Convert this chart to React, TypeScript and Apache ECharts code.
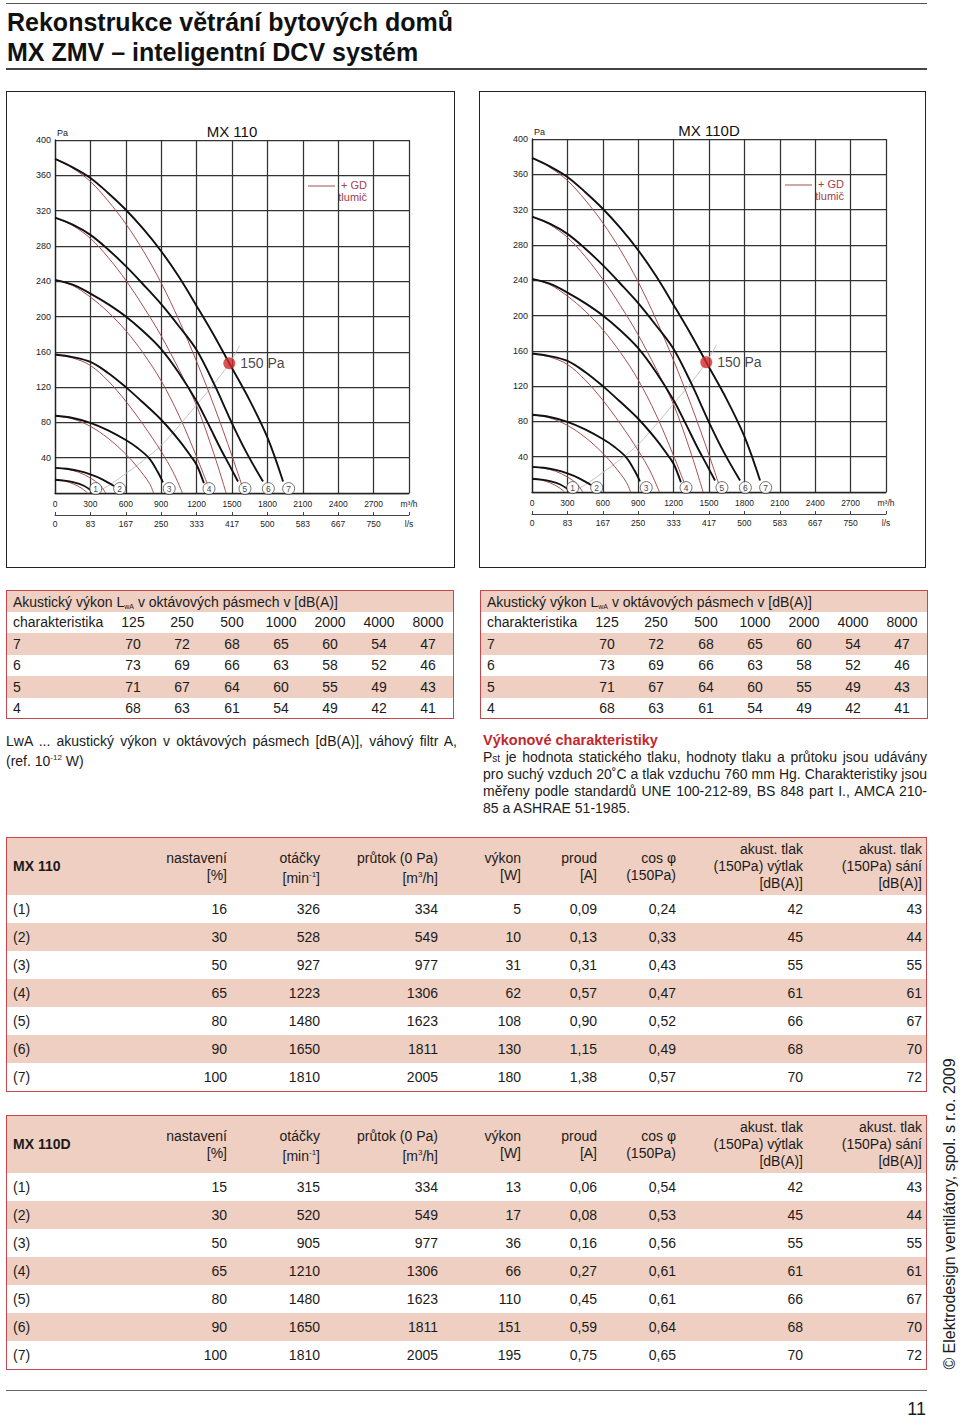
import React, { useEffect, useRef } from 'react';
import * as echarts from 'echarts';

const FONT = '"Liberation Sans", Arial, Helvetica, sans-serif';
const INK = '#1b1b1b';
const PINK = '#efcfc2';
const RED_BORDER = '#c6464c';
const CURVE_RED = '#a4504e';
const LEGEND_RED = '#a2414a';
const GRID = '#333333';

// ---------- chart data (flow Q in m³/h, static pressure in Pa) ----------
const flowLabelsM3h = ['0', '300', '600', '900', '1200', '1500', '1800', '2100', '2400', '2700', 'm³/h'];
const flowLabelsLs = ['0', '83', '167', '250', '333', '417', '500', '583', '667', '750', 'l/s'];

const black1 = [[0, 15], [80, 14], [160, 12], [240, 8.5], [305, 3]];
const black2 = [[0, 28.5], [100, 27.5], [200, 25], [300, 21], [400, 15.5], [500, 8]];
const black3 = [[0, 87.5], [150, 85], [300, 79.5], [450, 71], [600, 60], [700, 51], [800, 39], [870, 24], [915, 12]];
const black4 = [[0, 157], [150, 154], [300, 148.5], [450, 136], [600, 120], [750, 102], [900, 83], [1050, 60], [1150, 42], [1200, 32], [1262, 11]];
const black5 = [[0, 241.5], [150, 236], [300, 226], [450, 214], [600, 200], [750, 183], [900, 163], [1050, 136], [1200, 104], [1300, 78], [1400, 51], [1480, 31], [1551, 13]];
const black6 = [[0, 312], [150, 304], [300, 292.5], [450, 276], [600, 257], [750, 236], [900, 214], [1050, 189], [1200, 162], [1350, 123], [1500, 79], [1630, 44], [1763, 13]];
const black7 = [[0, 378.5], [150, 369], [300, 357], [450, 340], [600, 321], [750, 299], [900, 274], [1050, 245], [1200, 212], [1350, 178], [1477, 147], [1650, 105], [1800, 63], [1933, 13]];

const red1 = [[0, 15], [80, 13.5], [160, 10], [230, 5], [275, 0]];
const red2 = [[0, 28.5], [100, 27], [200, 23.5], [300, 17], [380, 9], [430, 0]];
const red3 = [[0, 87.5], [150, 84], [300, 75.5], [450, 62], [600, 44], [700, 29], [800, 11], [835, 0]];
const red4 = [[0, 157], [150, 153], [300, 144.5], [450, 127], [600, 104], [750, 77], [900, 47], [1000, 24], [1080, 0]];
const red5 = [[0, 241.5], [150, 235], [300, 222], [450, 205], [600, 184], [750, 158], [900, 127], [1050, 88], [1200, 41], [1320, 0]];
const red6 = [[0, 312], [150, 303], [300, 288.5], [450, 267], [600, 241], [750, 211], [900, 178], [1050, 140], [1200, 99], [1350, 43], [1450, 0]];
const red7 = [[0, 378.5], [150, 368], [300, 353], [450, 331], [600, 305], [750, 274], [900, 238], [1050, 196], [1200, 149], [1350, 98], [1500, 42], [1605, 0]];

const systemCurve = [[360, 2], [450, 8], [600, 22], [750, 37], [900, 54], [1050, 76], [1200, 100], [1350, 124], [1477, 147], [1565, 167]];

const markerFlow = [345, 548, 968, 1305, 1610, 1808, 1980];
const markerPressure = [5, 5, 5, 5, 5, 5, 5];
const markerNames = ['1', '2', '3', '4', '5', '6', '7'];
const operatingPoint = [1477, 147];
const operatingLabel = '150 Pa';

const blackCurves = [black1, black2, black3, black4, black5, black6, black7];
const redCurves = [red1, red2, red3, red4, red5, red6, red7];

// ---------- acoustic table data ----------
const octaveBands = ['125', '250', '500', '1000', '2000', '4000', '8000'];
const acousticNames = ['7', '6', '5', '4'];
const acoustic7 = [70, 72, 68, 65, 60, 54, 47];
const acoustic6 = [73, 69, 66, 63, 58, 52, 46];
const acoustic5 = [71, 67, 64, 60, 55, 49, 43];
const acoustic4 = [68, 63, 61, 54, 49, 42, 41];
const acousticRows = [acoustic7, acoustic6, acoustic5, acoustic4];

// ---------- performance tables ----------
const settingLabels = ['(1)', '(2)', '(3)', '(4)', '(5)', '(6)', '(7)'];
const mx110Setting = [16, 30, 50, 65, 80, 90, 100];
const mx110Speed = [326, 528, 927, 1223, 1480, 1650, 1810];
const mx110Flow = [334, 549, 977, 1306, 1623, 1811, 2005];
const mx110Power = [5, 10, 31, 62, 108, 130, 180];
const mx110Current = ['0,09', '0,13', '0,31', '0,57', '0,90', '1,15', '1,38'];
const mx110Cos = ['0,24', '0,33', '0,43', '0,47', '0,52', '0,49', '0,57'];
const mx110Discharge = [42, 45, 55, 61, 66, 68, 70];
const mx110Suction = [43, 44, 55, 61, 67, 70, 72];

const mx110dSetting = [15, 30, 50, 65, 80, 90, 100];
const mx110dSpeed = [315, 520, 905, 1210, 1480, 1650, 1810];
const mx110dFlow = [334, 549, 977, 1306, 1623, 1811, 2005];
const mx110dPower = [13, 17, 36, 66, 110, 151, 195];
const mx110dCurrent = ['0,06', '0,08', '0,16', '0,27', '0,45', '0,59', '0,75'];
const mx110dCos = ['0,54', '0,53', '0,56', '0,61', '0,61', '0,64', '0,65'];
const mx110dDischarge = [42, 45, 55, 61, 66, 68, 70];
const mx110dSuction = [43, 44, 55, 61, 67, 70, 72];

type ChartProps = {
  title: string; left: number; top: number; width: number; height: number;
  gl: number; gr: number; gt: number; gb: number;
};

function buildOption(p: ChartProps): any {
  const curve = (data: number[][], color: string, width: number, z: number) => ({
    type: 'line', data, smooth: 0.35, symbol: 'none', silent: true, z,
    lineStyle: { color, width }, xAxisIndex: 0, yAxisIndex: 0,
  });
  const labelIdx = (v: number) => Math.round(v / 300);
  return {
    animation: false,
    textStyle: { fontFamily: FONT },
    grid: { left: p.gl, right: p.gr, top: p.gt, bottom: p.gb, containLabel: false },
    xAxis: [
      {
        type: 'value', min: 0, max: 3000, interval: 300, position: 'bottom',
        axisLine: { show: true, onZero: false, lineStyle: { color: '#222', width: 1.3 } },
        axisTick: { show: false },
        axisLabel: { fontSize: 8.5, color: '#222', margin: 6, fontFamily: FONT, showMinLabel: true, showMaxLabel: true,
          formatter: (v: number) => flowLabelsM3h[labelIdx(v)] ?? '' },
        splitLine: { show: true, lineStyle: { color: GRID, width: 1.25 } },
      },
      {
        type: 'value', min: 0, max: 3000, interval: 300, position: 'bottom', offset: 22,
        axisLine: { show: true, onZero: false, lineStyle: { color: '#444', width: 1 } },
        axisTick: { show: true, inside: true, length: 3, lineStyle: { color: '#444' } },
        axisLabel: { fontSize: 8.5, color: '#222', margin: 4, fontFamily: FONT, showMinLabel: true, showMaxLabel: true,
          formatter: (v: number) => flowLabelsLs[labelIdx(v)] ?? '' },
        splitLine: { show: false },
      },
    ],
    yAxis: {
      type: 'value', min: 0, max: 400, interval: 40,
      axisLine: { show: true, lineStyle: { color: '#222', width: 1.3 } },
      axisTick: { show: false },
      axisLabel: { fontSize: 9, color: '#222', margin: 4, fontFamily: FONT, formatter: (v: number) => (v === 0 ? '' : String(v)) },
      splitLine: { show: true, lineStyle: { color: GRID, width: 1.25 } },
    },
    graphic: [
      { type: 'text', x: p.gl + 177, y: p.gt - 9, style: { text: p.title, fontSize: 15, fill: '#111', align: 'center', verticalAlign: 'middle', fontFamily: FONT } },
      { type: 'text', x: p.gl + 2, y: p.gt - 7, style: { text: 'Pa', fontSize: 9, fill: '#222', align: 'left', verticalAlign: 'middle', fontFamily: FONT } },
      { type: 'line', shape: { x1: p.gl + 253, y1: p.gt + 46, x2: p.gl + 280, y2: p.gt + 46 }, style: { stroke: CURVE_RED, lineWidth: 1 } },
      { type: 'text', x: p.gl + 312, y: p.gt + 45, style: { text: '+ GD', fontSize: 11, fill: LEGEND_RED, align: 'right', verticalAlign: 'middle', fontFamily: FONT } },
      { type: 'text', x: p.gl + 312, y: p.gt + 57, style: { text: 'tlumič', fontSize: 11, fill: LEGEND_RED, align: 'right', verticalAlign: 'middle', fontFamily: FONT } },
    ],
    series: [
      curve(systemCurve, '#c4c4c4', 1, 2),
      ...redCurves.map((c) => curve(c, CURVE_RED, 1, 3)),
      ...blackCurves.map((c) => curve(c, '#111', 1.9, 4)),
      {
        type: 'scatter', silent: true, z: 6, symbol: 'circle', symbolSize: 12,
        data: markerFlow.map((q, i) => ({ value: [q, markerPressure[i]], name: markerNames[i] })),
        itemStyle: { color: '#fff', borderColor: '#222', borderWidth: 0.8 },
        label: { show: true, position: 'inside', formatter: (d: any) => d.name, fontSize: 8.5, color: '#111', fontFamily: FONT },
      },
      {
        type: 'scatter', silent: true, z: 7, symbol: 'circle', symbolSize: 12,
        data: [operatingPoint],
        itemStyle: { color: '#d22b2b' },
        label: { show: true, position: 'right', distance: 5, formatter: operatingLabel, fontSize: 14, color: '#111', fontFamily: FONT },
      },
    ],
  };
}

function FanChart(p: ChartProps) {
  const ref = useRef<HTMLDivElement>(null);
  useEffect(() => {
    if (!ref.current) return;
    const chart = echarts.init(ref.current, null, { renderer: 'svg' });
    chart.setOption(buildOption(p));
    return () => chart.dispose();
  }, []);
  return (
    <>
      <div style={{ position: 'absolute', left: p.left, top: p.top, width: p.width, height: p.height, border: '1.5px solid #222', boxSizing: 'border-box' }} />
      <div ref={ref} style={{ position: 'absolute', left: p.left, top: p.top, width: p.width, height: p.height }} />
    </>
  );
}

type TxtProps = { x: number; y: number; align?: 'left' | 'right' | 'center'; size?: number; weight?: number; color?: string; children: any };
function Txt({ x, y, align = 'left', size = 14, weight = 400, color = INK, children }: TxtProps) {
  const W = 500, LH = 20;
  const left = align === 'left' ? x : align === 'right' ? x - W : x - W / 2;
  return (
    <div style={{ position: 'absolute', left, top: y - LH / 2, width: W, height: LH, lineHeight: LH + 'px', fontSize: size, fontWeight: weight, color, textAlign: align, whiteSpace: 'nowrap' }}>
      {children}
    </div>
  );
}

function JLine({ x, y, w, size = 14, last = true, children }: { x: number; y: number; w: number; size?: number; last?: boolean; children: any }) {
  return (
    <div style={{ position: 'absolute', left: x, top: y - 9, width: w, height: 18, lineHeight: '18px', fontSize: size, textAlign: 'justify', textAlignLast: last ? 'justify' : 'left', color: INK } as any}>
      {children}
    </div>
  );
}

function AcousticTable({ left }: { left: number }) {
  const top = 590, width = 448, rowH = 21.5;
  const centers = [127, 176, 226, 275, 324, 373, 422];
  return (
    <div style={{ position: 'absolute', left, top, width, height: rowH * 6 }}>
      {[0, 2, 4].map((i) => (
        <div key={i} style={{ position: 'absolute', left: 0, top: i * rowH, width, height: rowH, background: PINK }} />
      ))}
      <Txt x={7} y={rowH * 0.5 + 1}>
        Akustický výkon L<span style={{ fontSize: 7, verticalAlign: '-2px' }}>wA</span> v oktávových pásmech v [dB(A)]
      </Txt>
      <Txt x={7} y={rowH * 1.5}>charakteristika</Txt>
      {octaveBands.map((b, j) => <Txt key={b} x={centers[j]} y={rowH * 1.5} align="center">{b}</Txt>)}
      {acousticRows.map((row, i) => (
        <React.Fragment key={i}>
          <Txt x={7} y={rowH * (i + 2.5)}>{acousticNames[i]}</Txt>
          {row.map((v, j) => <Txt key={j} x={centers[j]} y={rowH * (i + 2.5)} align="center">{v}</Txt>)}
        </React.Fragment>
      ))}
      <div style={{ position: 'absolute', left: 0, top: 0, width, height: rowH * 6, border: `1.5px solid ${RED_BORDER}`, boxSizing: 'border-box' }} />
    </div>
  );
}

type PerfProps = { top: number; name: string; cols: (number | string)[][] };
function PerfTable({ top, name, cols }: PerfProps) {
  const left = 6, width = 921, headerH = 58, rowH = 28;
  const rights = [221, 314, 432, 515, 591, 670, 797, 916];
  const headers: any[][] = [
    ['nastavení', '[%]'],
    ['otáčky', <>[min<sup style={{ fontSize: 8 }}>-1</sup>]</>],
    ['průtok (0 Pa)', <>[m<sup style={{ fontSize: 8 }}>3</sup>/h]</>],
    ['výkon', '[W]'],
    ['proud', '[A]'],
    ['cos φ', '(150Pa)'],
    ['akust. tlak', '(150Pa) výtlak', '[dB(A)]'],
    ['akust. tlak', '(150Pa) sání', '[dB(A)]'],
  ];
  const height = headerH + rowH * 7 + 1;
  return (
    <div style={{ position: 'absolute', left, top, width, height }}>
      <div style={{ position: 'absolute', left: 0, top: 0, width, height: headerH, background: PINK }} />
      {[1, 3, 5].map((i) => (
        <div key={i} style={{ position: 'absolute', left: 0, top: headerH + i * rowH, width, height: rowH, background: PINK }} />
      ))}
      <Txt x={7} y={headerH / 2} weight={700}>{name}</Txt>
      {headers.map((lines, c) => lines.map((ln, k) => (
        <Txt key={c + '-' + k} x={rights[c]} y={headerH / 2 + (k - (lines.length - 1) / 2) * 17} align="right">{ln}</Txt>
      )))}
      {settingLabels.map((lab, r) => (
        <React.Fragment key={lab}>
          <Txt x={7} y={headerH + rowH * (r + 0.5)}>{lab}</Txt>
          {cols.map((col, c) => (
            <Txt key={c} x={rights[c]} y={headerH + rowH * (r + 0.5)} align="right">{col[r]}</Txt>
          ))}
        </React.Fragment>
      ))}
      <div style={{ position: 'absolute', left: 0, top: 0, width, height, border: `1.5px solid ${RED_BORDER}`, boxSizing: 'border-box' }} />
    </div>
  );
}

export default function App() {
  return (
    <div style={{ position: 'absolute', left: 0, top: 0, width: 960, height: 1419, background: '#fff', fontFamily: FONT, color: INK, overflow: 'hidden' }}>
      <div style={{ position: 'absolute', left: 6, top: 3, width: 921, height: 1, background: '#555' }} />
      <div style={{ position: 'absolute', left: 7, top: 7, lineHeight: '30px', fontSize: 25, fontWeight: 700, color: '#111', whiteSpace: 'nowrap' }}>
        Rekonstrukce větrání bytových domů<br />MX ZMV – inteligentní DCV systém
      </div>
      <div style={{ position: 'absolute', left: 6, top: 68, width: 921, height: 1.5, background: '#444' }} />

      <FanChart title="MX 110" left={6} top={91} width={449} height={477} gl={49} gr={46} gt={49} gb={75} />
      <FanChart title="MX 110D" left={479} top={91} width={447} height={477} gl={53} gr={40} gt={48} gb={76} />

      <AcousticTable left={6} />
      <AcousticTable left={480} />

      <JLine x={6} y={741} w={451}>LwA ... akustický výkon v oktávových pásmech [dB(A)], váhový filtr A,</JLine>
      <Txt x={6} y={758}>(ref. 10<sup style={{ fontSize: 8 }}>-12</sup> W)</Txt>

      <Txt x={483} y={740} weight={700} color="#c0282e" size={14.5}>Výkonové charakteristiky</Txt>
      <JLine x={483} y={757} w={444}>P<span style={{ fontSize: 10 }}>st</span> je hodnota statického tlaku, hodnoty tlaku a průtoku jsou udávány</JLine>
      <JLine x={483} y={774} w={444}>pro suchý vzduch 20˚C a tlak vzduchu 760 mm Hg. Charakteristiky jsou</JLine>
      <JLine x={483} y={791} w={444}>měřeny podle standardů UNE 100-212-89, BS 848 part I., AMCA 210-</JLine>
      <JLine x={483} y={808} w={444} last={false}>85 a ASHRAE 51-1985.</JLine>

      <PerfTable top={837} name="MX 110" cols={[mx110Setting, mx110Speed, mx110Flow, mx110Power, mx110Current, mx110Cos, mx110Discharge, mx110Suction]} />
      <PerfTable top={1115} name="MX 110D" cols={[mx110dSetting, mx110dSpeed, mx110dFlow, mx110dPower, mx110dCurrent, mx110dCos, mx110dDischarge, mx110dSuction]} />

      <div style={{ position: 'absolute', left: 950 - 170, top: 1214 - 10, width: 340, height: 20, lineHeight: '20px', fontSize: 16, textAlign: 'center', transform: 'rotate(-90deg)', whiteSpace: 'nowrap', color: INK }}>
        © Elektrodesign ventilátory, spol. s r.o. 2009
      </div>
      <div style={{ position: 'absolute', left: 6, top: 1390, width: 921, height: 1, background: '#666' }} />
      <div style={{ position: 'absolute', left: 826, top: 1400, width: 100, height: 18, lineHeight: '18px', fontSize: 18, textAlign: 'right', color: INK, whiteSpace: 'nowrap' }}>11</div>
    </div>
  );
}
